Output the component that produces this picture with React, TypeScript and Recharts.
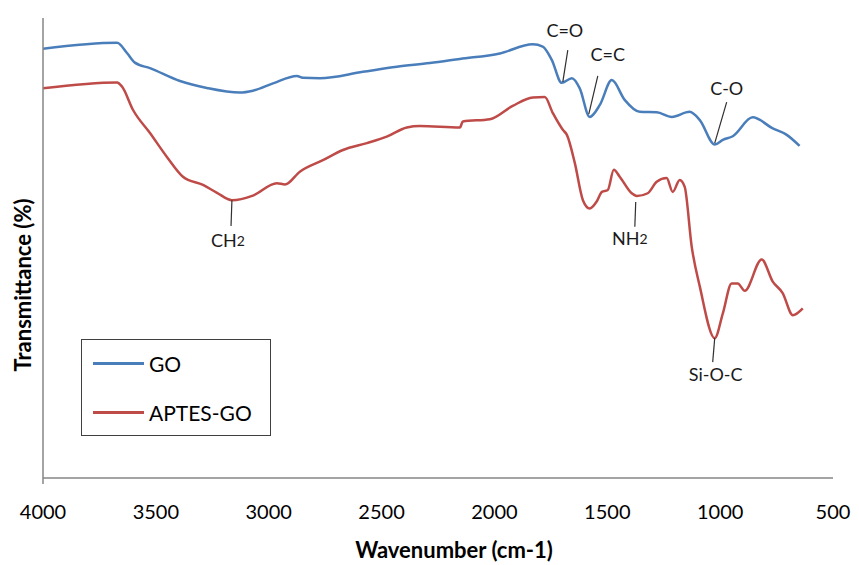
import React from "react";
import {
  LineChart,
  Line,
  XAxis,
  YAxis,
  Legend,
  ReferenceLine,
  ReferenceDot,
} from "recharts";

// wavenumber (cm-1) and transmittance (arbitrary %)
const GO_WN = [
  4000, 3672, 3628, 3593, 3526, 3393, 3274, 3128, 3070, 2981, 2875, 2849, 2773, 2583, 2432,
  2286, 2153, 1976, 1830, 1786, 1746, 1702, 1657, 1622, 1578, 1533, 1480, 1423, 1356, 1281,
  1214, 1135, 1090, 1024, 988, 944, 856, 767, 705, 648,
];
const GO_T = [
  93.3, 94.6, 92.4, 90.3, 89.1, 86.3, 84.8, 83.8, 84.2, 85.8, 87.4, 87.0, 86.9, 88.3, 89.4,
  90.2, 91.1, 92.3, 94.3, 93.8, 90.9, 85.9, 86.9, 84.7, 78.5, 81.1, 86.5, 82.2, 79.6, 79.5,
  78.5, 79.6, 77.8, 72.5, 73.5, 74.3, 78.4, 76.0, 74.6, 72.2,
];

const APTES_WN = [
  4000, 3672, 3650, 3601, 3526, 3451, 3380, 3291, 3229, 3163, 3070, 2964, 2928, 2862, 2760,
  2671, 2565, 2477, 2388, 2330, 2153, 2140, 2020, 1919, 1830, 1777, 1741, 1697, 1679, 1644,
  1608, 1578, 1547, 1524, 1498, 1471, 1445, 1392, 1369, 1321, 1281, 1237, 1210, 1179, 1157,
  1126, 1090, 1024, 988, 949, 922, 891, 816, 767, 723, 678, 634,
];
const APTES_T = [
  84.7, 86.0, 85.1, 80.0, 75.0, 69.8, 65.5, 63.7, 62.0, 60.4, 61.4, 64.1, 63.8, 66.6, 69.1,
  71.3, 72.8, 74.2, 76.2, 76.5, 76.2, 77.5, 78.0, 80.9, 82.7, 82.8, 79.3, 75.7, 74.6, 68.5,
  60.4, 58.6, 60.1, 62.2, 62.6, 67.0, 65.5, 61.9, 61.3, 61.9, 64.4, 65.2, 62.2, 64.8, 63.3,
  50.3, 41.6, 30.4, 35.8, 42.3, 42.3, 40.7, 47.5, 42.7, 40.2, 35.4, 36.9,
];

const SERIES = ["GO", "APTES-GO"];
const X_TICKS = [4000, 3500, 3000, 2500, 2000, 1500, 1000, 500];

// peak labels: text anchor point and leader line end points
const PEAKS = [
  { text: "C=O", sub: "", tx: 1688, ty: 97.4, x1: 1675, y1: 93.0, x2: 1697, y2: 86.1 },
  { text: "C=C", sub: "", tx: 1498, ty: 92.2, x1: 1542, y1: 87.4, x2: 1582, y2: 79.1 },
  { text: "C-O", sub: "", tx: 971, ty: 84.8, x1: 971, y1: 81.7, x2: 1024, y2: 72.8 },
  { text: "NH", sub: "2", tx: 1400, ty: 52.2, x1: 1374, y1: 60.0, x2: 1378, y2: 54.6 },
  { text: "CH", sub: "2", tx: 3181, ty: 51.7, x1: 3163, y1: 60.4, x2: 3167, y2: 54.8 },
  { text: "Si-O-C", sub: "", tx: 1020, ty: 22.6, x1: 1024, y1: 30.4, x2: 1033, y2: 25.2 },
];

const goData = GO_WN.map((wn, i) => ({ wn, t: GO_T[i] }));
const aptesData = APTES_WN.map((wn, i) => ({ wn, t: APTES_T[i] }));

const FONT = "Lato, 'Open Sans', sans-serif";
const AXIS = "#868686";

const LegendBox = ({ payload }: any) => {
  const items = [...(payload || [])].sort(
    (a: any, b: any) => SERIES.indexOf(a.value) - SERIES.indexOf(b.value)
  );
  return (
    <div
      style={{
        width: 190,
        height: 97,
        border: "1.5px solid #404040",
        background: "#fff",
        boxSizing: "border-box",
        fontFamily: FONT,
        fontSize: 21,
        color: "#000",
        padding: "10px 0 0 11px",
      }}
    >
      {items.map((item: any) => (
        <div key={item.value} style={{ display: "flex", alignItems: "center", height: 26, marginBottom: 23 }}>
          <span style={{ width: 51, height: 3, background: item.color, marginRight: 5 }} />
          <span>{item.value}</span>
        </div>
      ))}
    </div>
  );
};

export default function App() {
  return (
    <div style={{ position: "absolute", left: 0, top: 0, background: "#fff" }}>
      <LineChart width={859} height={565} margin={{ top: 18, right: 26, left: 0, bottom: 0 }}>
        <XAxis
          dataKey="wn"
          type="number"
          domain={[500, 4000]}
          reversed
          ticks={X_TICKS}
          interval={0}
          allowDataOverflow
          tickLine={false}
          tickMargin={21}
          height={87}
          stroke={AXIS}
          strokeWidth={1.5}
          tick={{ fill: "#000", fontSize: 20, fontFamily: FONT }}
          label={{
            content: ({ viewBox }: any) => (
              <text
                x={454}
                y={viewBox.y + 80}
                textAnchor="middle"
                fontFamily={FONT}
                fontSize={22}
                fontWeight="bold"
                fill="#000"
              >
                Wavenumber (cm-1)
              </text>
            ),
          }}
        />
        <YAxis
          type="number"
          domain={[0, 100]}
          tick={false}
          tickLine={false}
          width={43}
          stroke={AXIS}
          strokeWidth={1.5}
          label={{
            content: () => (
              <text
                x={22}
                y={285}
                transform="rotate(-90, 22, 285)"
                textAnchor="middle"
                dominantBaseline="central"
                fontFamily={FONT}
                fontSize={22}
                fontWeight="bold"
                fill="#000"
              >
                Transmittance (%)
              </text>
            ),
          }}
        />
        <ReferenceLine
          segment={[{ x: 4000, y: 0 }, { x: 4000, y: -1.3 }]}
          stroke={AXIS}
          strokeWidth={1.5}
          ifOverflow="visible"
        />
        <Line
          data={goData}
          dataKey="t"
          name="GO"
          stroke="#4A7EBB"
          strokeWidth={2.5}
          dot={false}
          type="monotone"
          isAnimationActive={false}
        />
        <Line
          data={aptesData}
          dataKey="t"
          name="APTES-GO"
          stroke="#BE4B48"
          strokeWidth={2.5}
          dot={false}
          type="monotone"
          isAnimationActive={false}
        />
        {PEAKS.map((p) => (
          <ReferenceLine
            key={`l-${p.text}`}
            segment={[{ x: p.x1, y: p.y1 }, { x: p.x2, y: p.y2 }]}
            stroke="#303030"
            strokeWidth={1.2}
          />
        ))}
        {PEAKS.map((p) => (
          <ReferenceDot
            key={`t-${p.text}`}
            x={p.tx}
            y={p.ty}
            r={0}
            shape={(s: any) => (
              <text
                x={s.cx}
                y={s.cy}
                textAnchor="middle"
                dominantBaseline="central"
                fontFamily={FONT}
                fontSize={18}
                fill="#1a1a1a"
              >
                <tspan>{p.text}</tspan>
                {p.sub && <tspan fontSize={14}>{p.sub}</tspan>}
              </text>
            )}
          />
        ))}
        <Legend
          layout="vertical"
          align="center"
          verticalAlign="middle"
          content={<LegendBox />}
          wrapperStyle={{ left: 81, top: 339, width: 190, height: 97 }}
        />
      </LineChart>
    </div>
  );
}
